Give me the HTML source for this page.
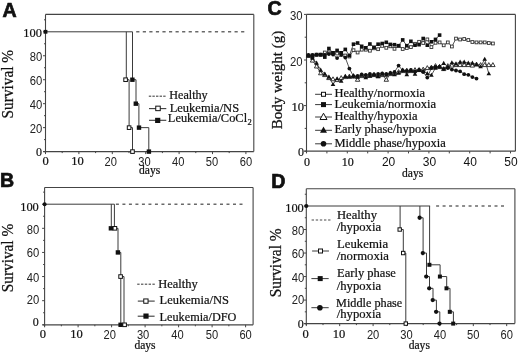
<!DOCTYPE html>
<html><head><meta charset="utf-8"><style>
html,body{margin:0;padding:0;background:#fff;width:520px;height:355px;overflow:hidden;}
svg{display:block;will-change:transform;}
</style></head><body>
<svg width="520" height="355" viewBox="0 0 520 355">
<rect width="520" height="355" fill="#fff"/>
<text x="2.40" y="16.60" font-family='"Liberation Sans", sans-serif' font-size="19.6" font-weight="bold" text-anchor="start" fill="#111" stroke="#111" stroke-width="0.7">A</text>
<text x="0.00" y="187.20" font-family='"Liberation Sans", sans-serif' font-size="19.6" font-weight="bold" text-anchor="start" fill="#111" stroke="#111" stroke-width="0.7">B</text>
<text x="267.60" y="15.00" font-family='"Liberation Sans", sans-serif' font-size="19.6" font-weight="bold" text-anchor="start" fill="#111" stroke="#111" stroke-width="0.7">C</text>
<text x="271.30" y="188.30" font-family='"Liberation Sans", sans-serif' font-size="19.6" font-weight="bold" text-anchor="start" fill="#111" stroke="#111" stroke-width="0.7">D</text>
<line x1="45.50" y1="14.40" x2="253.80" y2="14.40" stroke="#444" stroke-width="1.1" />
<line x1="253.80" y1="14.40" x2="253.80" y2="151.60" stroke="#444" stroke-width="1.1" />
<line x1="45.50" y1="14.40" x2="45.50" y2="153.10" stroke="#444" stroke-width="1.1" />
<line x1="43.50" y1="151.60" x2="253.80" y2="151.60" stroke="#444" stroke-width="1.25" />
<line x1="43.00" y1="151.60" x2="45.50" y2="151.60" stroke="#444" stroke-width="1" />
<line x1="44.00" y1="139.62" x2="45.50" y2="139.62" stroke="#444" stroke-width="1" />
<line x1="43.00" y1="127.64" x2="45.50" y2="127.64" stroke="#444" stroke-width="1" />
<line x1="44.00" y1="115.66" x2="45.50" y2="115.66" stroke="#444" stroke-width="1" />
<line x1="43.00" y1="103.68" x2="45.50" y2="103.68" stroke="#444" stroke-width="1" />
<line x1="44.00" y1="91.70" x2="45.50" y2="91.70" stroke="#444" stroke-width="1" />
<line x1="43.00" y1="79.72" x2="45.50" y2="79.72" stroke="#444" stroke-width="1" />
<line x1="44.00" y1="67.74" x2="45.50" y2="67.74" stroke="#444" stroke-width="1" />
<line x1="43.00" y1="55.76" x2="45.50" y2="55.76" stroke="#444" stroke-width="1" />
<line x1="44.00" y1="43.78" x2="45.50" y2="43.78" stroke="#444" stroke-width="1" />
<line x1="43.00" y1="31.80" x2="45.50" y2="31.80" stroke="#444" stroke-width="1" />
<line x1="44.00" y1="19.82" x2="45.50" y2="19.82" stroke="#444" stroke-width="1" />
<text x="41.90" y="36.69" font-family='"Liberation Serif", serif' font-size="13" font-weight="normal" text-anchor="end" fill="#111" textLength="18.6" lengthAdjust="spacingAndGlyphs"  stroke="#111" stroke-width="0.22">100</text>
<text x="42.30" y="60.66" font-family='"Liberation Sans", sans-serif' font-size="12.3" font-weight="normal" text-anchor="end" fill="#222" textLength="12.5" lengthAdjust="spacingAndGlyphs" >80</text>
<text x="42.30" y="84.62" font-family='"Liberation Sans", sans-serif' font-size="12.3" font-weight="normal" text-anchor="end" fill="#222" textLength="12.5" lengthAdjust="spacingAndGlyphs" >60</text>
<text x="42.30" y="108.58" font-family='"Liberation Sans", sans-serif' font-size="12.3" font-weight="normal" text-anchor="end" fill="#222" textLength="12.5" lengthAdjust="spacingAndGlyphs" >40</text>
<text x="42.30" y="132.54" font-family='"Liberation Sans", sans-serif' font-size="12.3" font-weight="normal" text-anchor="end" fill="#222" textLength="12.5" lengthAdjust="spacingAndGlyphs" >20</text>
<text x="41.90" y="155.59" font-family='"Liberation Serif", serif' font-size="13" font-weight="normal" text-anchor="end" fill="#111" textLength="6.0" lengthAdjust="spacingAndGlyphs"  stroke="#111" stroke-width="0.22">0</text>
<line x1="45.50" y1="151.60" x2="45.50" y2="154.10" stroke="#444" stroke-width="1" />
<line x1="62.20" y1="151.60" x2="62.20" y2="153.10" stroke="#444" stroke-width="1" />
<line x1="78.90" y1="151.60" x2="78.90" y2="154.10" stroke="#444" stroke-width="1" />
<line x1="95.60" y1="151.60" x2="95.60" y2="153.10" stroke="#444" stroke-width="1" />
<line x1="112.30" y1="151.60" x2="112.30" y2="154.10" stroke="#444" stroke-width="1" />
<line x1="129.00" y1="151.60" x2="129.00" y2="153.10" stroke="#444" stroke-width="1" />
<line x1="145.70" y1="151.60" x2="145.70" y2="154.10" stroke="#444" stroke-width="1" />
<line x1="162.40" y1="151.60" x2="162.40" y2="153.10" stroke="#444" stroke-width="1" />
<line x1="179.10" y1="151.60" x2="179.10" y2="154.10" stroke="#444" stroke-width="1" />
<line x1="195.80" y1="151.60" x2="195.80" y2="153.10" stroke="#444" stroke-width="1" />
<line x1="212.50" y1="151.60" x2="212.50" y2="154.10" stroke="#444" stroke-width="1" />
<line x1="229.20" y1="151.60" x2="229.20" y2="153.10" stroke="#444" stroke-width="1" />
<line x1="245.90" y1="151.60" x2="245.90" y2="154.10" stroke="#444" stroke-width="1" />
<text x="45.70" y="165.00" font-family='"Liberation Serif", serif' font-size="12.5" font-weight="normal" text-anchor="middle" fill="#111"  stroke="#111" stroke-width="0.22">0</text>
<text x="77.50" y="165.00" font-family='"Liberation Serif", serif' font-size="12.5" font-weight="normal" text-anchor="middle" fill="#111"  stroke="#111" stroke-width="0.22">10</text>
<text x="110.80" y="165.80" font-family='"Liberation Sans", sans-serif' font-size="12" font-weight="normal" text-anchor="middle" fill="#222" textLength="12.4" lengthAdjust="spacingAndGlyphs" >20</text>
<text x="144.50" y="165.80" font-family='"Liberation Sans", sans-serif' font-size="12" font-weight="normal" text-anchor="middle" fill="#222" textLength="12.4" lengthAdjust="spacingAndGlyphs" >30</text>
<text x="178.30" y="165.80" font-family='"Liberation Sans", sans-serif' font-size="12" font-weight="normal" text-anchor="middle" fill="#222" textLength="12.4" lengthAdjust="spacingAndGlyphs" >40</text>
<text x="212.00" y="165.80" font-family='"Liberation Sans", sans-serif' font-size="12" font-weight="normal" text-anchor="middle" fill="#222" textLength="12.4" lengthAdjust="spacingAndGlyphs" >50</text>
<text x="246.00" y="165.80" font-family='"Liberation Sans", sans-serif' font-size="12" font-weight="normal" text-anchor="middle" fill="#222" textLength="12.4" lengthAdjust="spacingAndGlyphs" >60</text>
<text x="149.70" y="174.40" font-family='"Liberation Serif", serif' font-size="11.5" font-weight="normal" text-anchor="middle" fill="#111" textLength="21.2" lengthAdjust="spacingAndGlyphs"  stroke="#111" stroke-width="0.22">days</text>
<text transform="translate(13.20,118.40) rotate(-90)" font-family='"Liberation Serif", serif' font-size="15.8" font-weight="normal" fill="#111" stroke="#111" stroke-width="0.25" textLength="68.5" lengthAdjust="spacingAndGlyphs">Survival %</text>
<line x1="136.20" y1="31.80" x2="139.40" y2="31.80" stroke="#444" stroke-width="1.2" />
<line x1="142.76" y1="31.80" x2="145.96" y2="31.80" stroke="#444" stroke-width="1.2" />
<line x1="149.31" y1="31.80" x2="152.51" y2="31.80" stroke="#444" stroke-width="1.2" />
<line x1="155.87" y1="31.80" x2="159.07" y2="31.80" stroke="#444" stroke-width="1.2" />
<line x1="162.42" y1="31.80" x2="165.62" y2="31.80" stroke="#444" stroke-width="1.2" />
<line x1="168.98" y1="31.80" x2="172.18" y2="31.80" stroke="#444" stroke-width="1.2" />
<line x1="175.54" y1="31.80" x2="178.74" y2="31.80" stroke="#444" stroke-width="1.2" />
<line x1="182.09" y1="31.80" x2="185.29" y2="31.80" stroke="#444" stroke-width="1.2" />
<line x1="188.65" y1="31.80" x2="191.85" y2="31.80" stroke="#444" stroke-width="1.2" />
<line x1="195.20" y1="31.80" x2="198.40" y2="31.80" stroke="#444" stroke-width="1.2" />
<line x1="201.76" y1="31.80" x2="204.96" y2="31.80" stroke="#444" stroke-width="1.2" />
<line x1="208.32" y1="31.80" x2="211.52" y2="31.80" stroke="#444" stroke-width="1.2" />
<line x1="214.87" y1="31.80" x2="218.07" y2="31.80" stroke="#444" stroke-width="1.2" />
<line x1="221.43" y1="31.80" x2="224.63" y2="31.80" stroke="#444" stroke-width="1.2" />
<line x1="227.98" y1="31.80" x2="231.18" y2="31.80" stroke="#444" stroke-width="1.2" />
<line x1="234.54" y1="31.80" x2="237.74" y2="31.80" stroke="#444" stroke-width="1.2" />
<line x1="241.10" y1="31.80" x2="244.30" y2="31.80" stroke="#444" stroke-width="1.2" />
<polyline points="45.50,31.80 132.50,31.80" fill="none" stroke="#3a3a3a" stroke-width="1" />
<polyline points="126.30,31.80 126.30,79.72 129.10,79.72 129.10,127.64 132.50,127.64 132.50,151.60" fill="none" stroke="#3a3a3a" stroke-width="1" />
<polyline points="132.50,31.80 132.50,79.72 136.00,79.72 136.00,103.68 138.90,103.68 138.90,127.64 148.80,127.64 148.80,151.60" fill="none" stroke="#3a3a3a" stroke-width="1" />
<rect x="43.60" y="29.90" width="3.8" height="3.8" fill="#111"/>
<rect x="123.80" y="77.92" width="3.5999999999999996" height="3.5999999999999996" fill="#fff" stroke="#111" stroke-width="1"/>
<rect x="127.30" y="125.84" width="3.5999999999999996" height="3.5999999999999996" fill="#fff" stroke="#111" stroke-width="1"/>
<rect x="130.70" y="149.80" width="3.5999999999999996" height="3.5999999999999996" fill="#fff" stroke="#111" stroke-width="1"/>
<rect x="130.20" y="77.52" width="4.4" height="4.4" fill="#111"/>
<rect x="133.60" y="101.48" width="4.4" height="4.4" fill="#111"/>
<rect x="136.80" y="125.44" width="4.4" height="4.4" fill="#111"/>
<rect x="146.70" y="149.40" width="4.4" height="4.4" fill="#111"/>
<line x1="148.80" y1="96.20" x2="151.20" y2="96.20" stroke="#444" stroke-width="1.1" />
<line x1="152.40" y1="96.20" x2="154.80" y2="96.20" stroke="#444" stroke-width="1.1" />
<line x1="156.00" y1="96.20" x2="158.40" y2="96.20" stroke="#444" stroke-width="1.1" />
<line x1="159.60" y1="96.20" x2="162.00" y2="96.20" stroke="#444" stroke-width="1.1" />
<line x1="163.20" y1="96.20" x2="165.60" y2="96.20" stroke="#444" stroke-width="1.1" />
<text x="169.30" y="98.70" font-family='"Liberation Serif", serif' font-size="12.6" font-weight="normal" text-anchor="start" fill="#111" textLength="38.4" lengthAdjust="spacingAndGlyphs"  stroke="#111" stroke-width="0.22">Healthy</text>
<line x1="149.00" y1="108.60" x2="166.30" y2="108.60" stroke="#3a3a3a" stroke-width="1.1" />
<rect x="155.75" y="106.15" width="4.5" height="4.5" fill="#fff" stroke="#111" stroke-width="1"/>
<text x="169.70" y="111.60" font-family='"Liberation Serif", serif' font-size="12.6" font-weight="normal" text-anchor="start" fill="#111" textLength="69.4" lengthAdjust="spacingAndGlyphs"  stroke="#111" stroke-width="0.22">Leukemia/NS</text>
<line x1="149.00" y1="120.30" x2="166.30" y2="120.30" stroke="#3a3a3a" stroke-width="1.1" />
<rect x="155.10" y="117.80" width="5.2" height="5.2" fill="#111"/>
<text x="167.80" y="122.30" font-family='"Liberation Serif", serif' font-size="12.6" font-weight="normal" text-anchor="start" fill="#111" textLength="79.3" lengthAdjust="spacingAndGlyphs"  stroke="#111" stroke-width="0.22">Leukemia/CoCl</text>
<text x="247.60" y="124.90" font-family='"Liberation Serif", serif' font-size="8.5" font-weight="normal" text-anchor="start" fill="#111"  stroke="#111" stroke-width="0.22">2</text>
<line x1="44.60" y1="187.50" x2="253.10" y2="187.50" stroke="#444" stroke-width="1.1" />
<line x1="253.10" y1="187.50" x2="253.10" y2="324.80" stroke="#444" stroke-width="1.1" />
<line x1="44.60" y1="187.50" x2="44.60" y2="326.30" stroke="#444" stroke-width="1.1" />
<line x1="42.60" y1="324.80" x2="253.10" y2="324.80" stroke="#444" stroke-width="1.25" />
<line x1="42.10" y1="324.80" x2="44.60" y2="324.80" stroke="#444" stroke-width="1" />
<line x1="43.10" y1="312.74" x2="44.60" y2="312.74" stroke="#444" stroke-width="1" />
<line x1="42.10" y1="300.68" x2="44.60" y2="300.68" stroke="#444" stroke-width="1" />
<line x1="43.10" y1="288.62" x2="44.60" y2="288.62" stroke="#444" stroke-width="1" />
<line x1="42.10" y1="276.56" x2="44.60" y2="276.56" stroke="#444" stroke-width="1" />
<line x1="43.10" y1="264.50" x2="44.60" y2="264.50" stroke="#444" stroke-width="1" />
<line x1="42.10" y1="252.44" x2="44.60" y2="252.44" stroke="#444" stroke-width="1" />
<line x1="43.10" y1="240.38" x2="44.60" y2="240.38" stroke="#444" stroke-width="1" />
<line x1="42.10" y1="228.32" x2="44.60" y2="228.32" stroke="#444" stroke-width="1" />
<line x1="43.10" y1="216.26" x2="44.60" y2="216.26" stroke="#444" stroke-width="1" />
<line x1="42.10" y1="204.20" x2="44.60" y2="204.20" stroke="#444" stroke-width="1" />
<line x1="43.10" y1="192.14" x2="44.60" y2="192.14" stroke="#444" stroke-width="1" />
<text x="38.80" y="211.29" font-family='"Liberation Serif", serif' font-size="13" font-weight="normal" text-anchor="end" fill="#111" textLength="18.6" lengthAdjust="spacingAndGlyphs"  stroke="#111" stroke-width="0.22">100</text>
<text x="39.20" y="234.22" font-family='"Liberation Sans", sans-serif' font-size="12.3" font-weight="normal" text-anchor="end" fill="#222" textLength="12.5" lengthAdjust="spacingAndGlyphs" >80</text>
<text x="39.20" y="257.44" font-family='"Liberation Sans", sans-serif' font-size="12.3" font-weight="normal" text-anchor="end" fill="#222" textLength="12.5" lengthAdjust="spacingAndGlyphs" >60</text>
<text x="39.20" y="281.56" font-family='"Liberation Sans", sans-serif' font-size="12.3" font-weight="normal" text-anchor="end" fill="#222" textLength="12.5" lengthAdjust="spacingAndGlyphs" >40</text>
<text x="39.20" y="303.78" font-family='"Liberation Sans", sans-serif' font-size="12.3" font-weight="normal" text-anchor="end" fill="#222" textLength="12.5" lengthAdjust="spacingAndGlyphs" >20</text>
<text x="38.80" y="326.19" font-family='"Liberation Serif", serif' font-size="13" font-weight="normal" text-anchor="end" fill="#111" textLength="6.0" lengthAdjust="spacingAndGlyphs"  stroke="#111" stroke-width="0.22">0</text>
<line x1="44.60" y1="324.80" x2="44.60" y2="327.30" stroke="#444" stroke-width="1" />
<line x1="61.35" y1="324.80" x2="61.35" y2="326.30" stroke="#444" stroke-width="1" />
<line x1="78.10" y1="324.80" x2="78.10" y2="327.30" stroke="#444" stroke-width="1" />
<line x1="94.85" y1="324.80" x2="94.85" y2="326.30" stroke="#444" stroke-width="1" />
<line x1="111.60" y1="324.80" x2="111.60" y2="327.30" stroke="#444" stroke-width="1" />
<line x1="128.35" y1="324.80" x2="128.35" y2="326.30" stroke="#444" stroke-width="1" />
<line x1="145.10" y1="324.80" x2="145.10" y2="327.30" stroke="#444" stroke-width="1" />
<line x1="161.85" y1="324.80" x2="161.85" y2="326.30" stroke="#444" stroke-width="1" />
<line x1="178.60" y1="324.80" x2="178.60" y2="327.30" stroke="#444" stroke-width="1" />
<line x1="195.35" y1="324.80" x2="195.35" y2="326.30" stroke="#444" stroke-width="1" />
<line x1="212.10" y1="324.80" x2="212.10" y2="327.30" stroke="#444" stroke-width="1" />
<line x1="228.85" y1="324.80" x2="228.85" y2="326.30" stroke="#444" stroke-width="1" />
<line x1="245.60" y1="324.80" x2="245.60" y2="327.30" stroke="#444" stroke-width="1" />
<text x="42.80" y="338.40" font-family='"Liberation Serif", serif' font-size="12.5" font-weight="normal" text-anchor="middle" fill="#111"  stroke="#111" stroke-width="0.22">0</text>
<text x="76.50" y="338.40" font-family='"Liberation Serif", serif' font-size="12.5" font-weight="normal" text-anchor="middle" fill="#111"  stroke="#111" stroke-width="0.22">10</text>
<text x="109.80" y="339.20" font-family='"Liberation Sans", sans-serif' font-size="12" font-weight="normal" text-anchor="middle" fill="#222" textLength="12.4" lengthAdjust="spacingAndGlyphs" >20</text>
<text x="143.10" y="339.20" font-family='"Liberation Sans", sans-serif' font-size="12" font-weight="normal" text-anchor="middle" fill="#222" textLength="12.4" lengthAdjust="spacingAndGlyphs" >30</text>
<text x="177.50" y="339.20" font-family='"Liberation Sans", sans-serif' font-size="12" font-weight="normal" text-anchor="middle" fill="#222" textLength="12.4" lengthAdjust="spacingAndGlyphs" >40</text>
<text x="211.90" y="339.20" font-family='"Liberation Sans", sans-serif' font-size="12" font-weight="normal" text-anchor="middle" fill="#222" textLength="12.4" lengthAdjust="spacingAndGlyphs" >50</text>
<text x="245.60" y="339.20" font-family='"Liberation Sans", sans-serif' font-size="12" font-weight="normal" text-anchor="middle" fill="#222" textLength="12.4" lengthAdjust="spacingAndGlyphs" >60</text>
<text x="145.00" y="349.20" font-family='"Liberation Serif", serif' font-size="11.5" font-weight="normal" text-anchor="middle" fill="#111" textLength="21.2" lengthAdjust="spacingAndGlyphs"  stroke="#111" stroke-width="0.22">days</text>
<text transform="translate(13.20,292.30) rotate(-90)" font-family='"Liberation Serif", serif' font-size="15.8" font-weight="normal" fill="#111" stroke="#111" stroke-width="0.25" textLength="68.5" lengthAdjust="spacingAndGlyphs">Survival %</text>
<line x1="115.90" y1="204.20" x2="118.90" y2="204.20" stroke="#444" stroke-width="1.2" />
<line x1="122.41" y1="204.20" x2="125.41" y2="204.20" stroke="#444" stroke-width="1.2" />
<line x1="128.91" y1="204.20" x2="131.91" y2="204.20" stroke="#444" stroke-width="1.2" />
<line x1="135.42" y1="204.20" x2="138.42" y2="204.20" stroke="#444" stroke-width="1.2" />
<line x1="141.92" y1="204.20" x2="144.92" y2="204.20" stroke="#444" stroke-width="1.2" />
<line x1="148.43" y1="204.20" x2="151.43" y2="204.20" stroke="#444" stroke-width="1.2" />
<line x1="154.93" y1="204.20" x2="157.93" y2="204.20" stroke="#444" stroke-width="1.2" />
<line x1="161.44" y1="204.20" x2="164.44" y2="204.20" stroke="#444" stroke-width="1.2" />
<line x1="167.94" y1="204.20" x2="170.94" y2="204.20" stroke="#444" stroke-width="1.2" />
<line x1="174.44" y1="204.20" x2="177.44" y2="204.20" stroke="#444" stroke-width="1.2" />
<line x1="180.95" y1="204.20" x2="183.95" y2="204.20" stroke="#444" stroke-width="1.2" />
<line x1="187.45" y1="204.20" x2="190.45" y2="204.20" stroke="#444" stroke-width="1.2" />
<line x1="193.96" y1="204.20" x2="196.96" y2="204.20" stroke="#444" stroke-width="1.2" />
<line x1="200.47" y1="204.20" x2="203.47" y2="204.20" stroke="#444" stroke-width="1.2" />
<line x1="206.97" y1="204.20" x2="209.97" y2="204.20" stroke="#444" stroke-width="1.2" />
<line x1="213.48" y1="204.20" x2="216.48" y2="204.20" stroke="#444" stroke-width="1.2" />
<line x1="219.98" y1="204.20" x2="222.98" y2="204.20" stroke="#444" stroke-width="1.2" />
<line x1="226.49" y1="204.20" x2="229.49" y2="204.20" stroke="#444" stroke-width="1.2" />
<line x1="232.99" y1="204.20" x2="235.99" y2="204.20" stroke="#444" stroke-width="1.2" />
<line x1="239.50" y1="204.20" x2="242.50" y2="204.20" stroke="#444" stroke-width="1.2" />
<polyline points="44.60,204.20 114.40,204.20" fill="none" stroke="#3a3a3a" stroke-width="1" />
<polyline points="111.30,204.20 111.30,228.32 118.00,228.32 118.00,252.44 120.80,252.44 120.80,324.80" fill="none" stroke="#3a3a3a" stroke-width="1" />
<polyline points="114.40,204.20 114.40,228.32" fill="none" stroke="#3a3a3a" stroke-width="1" />
<polyline points="120.80,276.56 124.00,276.56 124.00,324.80" fill="none" stroke="#3a3a3a" stroke-width="1" />
<circle cx="44.60" cy="204.20" r="2.0" fill="#111"/>
<rect x="108.70" y="226.12" width="4.4" height="4.4" fill="#111"/>
<rect x="113.10" y="226.52" width="3.5999999999999996" height="3.5999999999999996" fill="#fff" stroke="#111" stroke-width="1"/>
<rect x="115.70" y="250.24" width="4.4" height="4.4" fill="#111"/>
<rect x="118.80" y="274.76" width="3.5999999999999996" height="3.5999999999999996" fill="#fff" stroke="#111" stroke-width="1"/>
<rect x="122.80" y="323.00" width="3.5999999999999996" height="3.5999999999999996" fill="#fff" stroke="#111" stroke-width="1"/>
<rect x="118.40" y="322.60" width="4.4" height="4.4" fill="#111"/>
<line x1="137.20" y1="284.20" x2="139.60" y2="284.20" stroke="#444" stroke-width="1.1" />
<line x1="141.00" y1="284.20" x2="143.40" y2="284.20" stroke="#444" stroke-width="1.1" />
<line x1="144.80" y1="284.20" x2="147.20" y2="284.20" stroke="#444" stroke-width="1.1" />
<line x1="148.60" y1="284.20" x2="151.00" y2="284.20" stroke="#444" stroke-width="1.1" />
<line x1="152.40" y1="284.20" x2="154.80" y2="284.20" stroke="#444" stroke-width="1.1" />
<text x="158.30" y="287.60" font-family='"Liberation Serif", serif' font-size="12.6" font-weight="normal" text-anchor="start" fill="#111" textLength="39.4" lengthAdjust="spacingAndGlyphs"  stroke="#111" stroke-width="0.22">Healthy</text>
<line x1="137.80" y1="301.10" x2="154.70" y2="301.10" stroke="#3a3a3a" stroke-width="1.1" />
<rect x="143.75" y="298.95" width="4.3" height="4.3" fill="#fff" stroke="#111" stroke-width="1"/>
<text x="159.60" y="303.80" font-family='"Liberation Serif", serif' font-size="12.6" font-weight="normal" text-anchor="start" fill="#111" textLength="69.3" lengthAdjust="spacingAndGlyphs"  stroke="#111" stroke-width="0.22">Leukemia/NS</text>
<line x1="137.70" y1="316.20" x2="154.60" y2="316.20" stroke="#3a3a3a" stroke-width="1.1" />
<rect x="143.40" y="313.50" width="5.2" height="5.2" fill="#111"/>
<text x="159.60" y="320.50" font-family='"Liberation Serif", serif' font-size="12.6" font-weight="normal" text-anchor="start" fill="#111" textLength="76.8" lengthAdjust="spacingAndGlyphs"  stroke="#111" stroke-width="0.22">Leukemia/DFO</text>
<line x1="306.30" y1="188.70" x2="514.90" y2="188.70" stroke="#444" stroke-width="1.1" />
<line x1="514.90" y1="188.70" x2="514.90" y2="323.60" stroke="#444" stroke-width="1.1" />
<line x1="306.30" y1="188.70" x2="306.30" y2="325.10" stroke="#444" stroke-width="1.1" />
<line x1="304.30" y1="323.60" x2="514.90" y2="323.60" stroke="#444" stroke-width="1.25" />
<line x1="303.80" y1="323.60" x2="306.30" y2="323.60" stroke="#444" stroke-width="1" />
<line x1="304.80" y1="311.84" x2="306.30" y2="311.84" stroke="#444" stroke-width="1" />
<line x1="303.80" y1="300.08" x2="306.30" y2="300.08" stroke="#444" stroke-width="1" />
<line x1="304.80" y1="288.32" x2="306.30" y2="288.32" stroke="#444" stroke-width="1" />
<line x1="303.80" y1="276.56" x2="306.30" y2="276.56" stroke="#444" stroke-width="1" />
<line x1="304.80" y1="264.80" x2="306.30" y2="264.80" stroke="#444" stroke-width="1" />
<line x1="303.80" y1="253.04" x2="306.30" y2="253.04" stroke="#444" stroke-width="1" />
<line x1="304.80" y1="241.28" x2="306.30" y2="241.28" stroke="#444" stroke-width="1" />
<line x1="303.80" y1="229.52" x2="306.30" y2="229.52" stroke="#444" stroke-width="1" />
<line x1="304.80" y1="217.76" x2="306.30" y2="217.76" stroke="#444" stroke-width="1" />
<line x1="303.80" y1="206.00" x2="306.30" y2="206.00" stroke="#444" stroke-width="1" />
<line x1="304.80" y1="194.24" x2="306.30" y2="194.24" stroke="#444" stroke-width="1" />
<text x="303.80" y="212.39" font-family='"Liberation Serif", serif' font-size="13" font-weight="normal" text-anchor="end" fill="#111" textLength="18.6" lengthAdjust="spacingAndGlyphs"  stroke="#111" stroke-width="0.22">100</text>
<text x="304.20" y="235.42" font-family='"Liberation Sans", sans-serif' font-size="12.3" font-weight="normal" text-anchor="end" fill="#222" textLength="12.5" lengthAdjust="spacingAndGlyphs" >80</text>
<text x="304.20" y="257.84" font-family='"Liberation Sans", sans-serif' font-size="12.3" font-weight="normal" text-anchor="end" fill="#222" textLength="12.5" lengthAdjust="spacingAndGlyphs" >60</text>
<text x="304.20" y="282.26" font-family='"Liberation Sans", sans-serif' font-size="12.3" font-weight="normal" text-anchor="end" fill="#222" textLength="12.5" lengthAdjust="spacingAndGlyphs" >40</text>
<text x="304.20" y="304.18" font-family='"Liberation Sans", sans-serif' font-size="12.3" font-weight="normal" text-anchor="end" fill="#222" textLength="12.5" lengthAdjust="spacingAndGlyphs" >20</text>
<text x="303.80" y="327.99" font-family='"Liberation Serif", serif' font-size="13" font-weight="normal" text-anchor="end" fill="#111" textLength="6.0" lengthAdjust="spacingAndGlyphs"  stroke="#111" stroke-width="0.22">0</text>
<line x1="306.30" y1="323.60" x2="306.30" y2="326.10" stroke="#444" stroke-width="1" />
<line x1="323.00" y1="323.60" x2="323.00" y2="325.10" stroke="#444" stroke-width="1" />
<line x1="339.70" y1="323.60" x2="339.70" y2="326.10" stroke="#444" stroke-width="1" />
<line x1="356.40" y1="323.60" x2="356.40" y2="325.10" stroke="#444" stroke-width="1" />
<line x1="373.10" y1="323.60" x2="373.10" y2="326.10" stroke="#444" stroke-width="1" />
<line x1="389.80" y1="323.60" x2="389.80" y2="325.10" stroke="#444" stroke-width="1" />
<line x1="406.50" y1="323.60" x2="406.50" y2="326.10" stroke="#444" stroke-width="1" />
<line x1="423.20" y1="323.60" x2="423.20" y2="325.10" stroke="#444" stroke-width="1" />
<line x1="439.90" y1="323.60" x2="439.90" y2="326.10" stroke="#444" stroke-width="1" />
<line x1="456.60" y1="323.60" x2="456.60" y2="325.10" stroke="#444" stroke-width="1" />
<line x1="473.30" y1="323.60" x2="473.30" y2="326.10" stroke="#444" stroke-width="1" />
<line x1="490.00" y1="323.60" x2="490.00" y2="325.10" stroke="#444" stroke-width="1" />
<line x1="506.70" y1="323.60" x2="506.70" y2="326.10" stroke="#444" stroke-width="1" />
<text x="305.60" y="338.20" font-family='"Liberation Serif", serif' font-size="12.5" font-weight="normal" text-anchor="middle" fill="#111"  stroke="#111" stroke-width="0.22">0</text>
<text x="338.90" y="338.20" font-family='"Liberation Serif", serif' font-size="12.5" font-weight="normal" text-anchor="middle" fill="#111"  stroke="#111" stroke-width="0.22">10</text>
<text x="373.10" y="339.00" font-family='"Liberation Sans", sans-serif' font-size="12" font-weight="normal" text-anchor="middle" fill="#222" textLength="12.4" lengthAdjust="spacingAndGlyphs" >20</text>
<text x="406.50" y="339.00" font-family='"Liberation Sans", sans-serif' font-size="12" font-weight="normal" text-anchor="middle" fill="#222" textLength="12.4" lengthAdjust="spacingAndGlyphs" >30</text>
<text x="439.90" y="339.00" font-family='"Liberation Sans", sans-serif' font-size="12" font-weight="normal" text-anchor="middle" fill="#222" textLength="12.4" lengthAdjust="spacingAndGlyphs" >40</text>
<text x="473.30" y="339.00" font-family='"Liberation Sans", sans-serif' font-size="12" font-weight="normal" text-anchor="middle" fill="#222" textLength="12.4" lengthAdjust="spacingAndGlyphs" >50</text>
<text x="506.70" y="339.00" font-family='"Liberation Sans", sans-serif' font-size="12" font-weight="normal" text-anchor="middle" fill="#222" textLength="12.4" lengthAdjust="spacingAndGlyphs" >60</text>
<text x="419.30" y="349.30" font-family='"Liberation Serif", serif' font-size="11.5" font-weight="normal" text-anchor="middle" fill="#111" textLength="21.2" lengthAdjust="spacingAndGlyphs"  stroke="#111" stroke-width="0.22">days</text>
<text transform="translate(281.40,297.30) rotate(-90)" font-family='"Liberation Serif", serif' font-size="15.8" font-weight="normal" fill="#111" stroke="#111" stroke-width="0.25" textLength="69" lengthAdjust="spacingAndGlyphs">Survival %</text>
<line x1="436.10" y1="206.00" x2="439.10" y2="206.00" stroke="#444" stroke-width="1.2" />
<line x1="442.59" y1="206.00" x2="445.59" y2="206.00" stroke="#444" stroke-width="1.2" />
<line x1="449.08" y1="206.00" x2="452.08" y2="206.00" stroke="#444" stroke-width="1.2" />
<line x1="455.57" y1="206.00" x2="458.57" y2="206.00" stroke="#444" stroke-width="1.2" />
<line x1="462.06" y1="206.00" x2="465.06" y2="206.00" stroke="#444" stroke-width="1.2" />
<line x1="468.55" y1="206.00" x2="471.55" y2="206.00" stroke="#444" stroke-width="1.2" />
<line x1="475.04" y1="206.00" x2="478.04" y2="206.00" stroke="#444" stroke-width="1.2" />
<line x1="481.53" y1="206.00" x2="484.53" y2="206.00" stroke="#444" stroke-width="1.2" />
<line x1="488.02" y1="206.00" x2="491.02" y2="206.00" stroke="#444" stroke-width="1.2" />
<line x1="494.51" y1="206.00" x2="497.51" y2="206.00" stroke="#444" stroke-width="1.2" />
<line x1="501.00" y1="206.00" x2="504.00" y2="206.00" stroke="#444" stroke-width="1.2" />
<polyline points="306.30,206.00 430.10,206.00" fill="none" stroke="#3a3a3a" stroke-width="1" />
<polyline points="400.10,206.00 400.10,229.52 403.30,229.52 403.30,253.04 405.80,253.04 405.80,323.60" fill="none" stroke="#3a3a3a" stroke-width="1" />
<rect x="398.00" y="227.82" width="3.4000000000000004" height="3.4000000000000004" fill="#fff" stroke="#111" stroke-width="1"/>
<rect x="401.50" y="251.34" width="3.4000000000000004" height="3.4000000000000004" fill="#fff" stroke="#111" stroke-width="1"/>
<rect x="404.10" y="321.90" width="3.4000000000000004" height="3.4000000000000004" fill="#fff" stroke="#111" stroke-width="1"/>
<polyline points="419.90,206.00 419.90,217.76 423.10,217.76 423.10,253.04 426.50,253.04 426.50,276.56 429.50,276.56 429.50,288.32 433.00,288.32 433.00,300.08 436.40,300.08 436.40,311.84 439.80,311.84 439.80,323.60" fill="none" stroke="#3a3a3a" stroke-width="1" />
<circle cx="419.60" cy="217.76" r="2.15" fill="#111"/>
<circle cx="422.80" cy="253.04" r="2.15" fill="#111"/>
<circle cx="426.20" cy="276.56" r="2.15" fill="#111"/>
<circle cx="429.20" cy="288.32" r="2.15" fill="#111"/>
<circle cx="432.70" cy="300.08" r="2.15" fill="#111"/>
<circle cx="436.10" cy="311.84" r="2.15" fill="#111"/>
<circle cx="439.50" cy="323.60" r="2.15" fill="#111"/>
<polyline points="429.60,206.00 429.60,264.80 440.10,264.80 440.10,276.56 446.70,276.56 446.70,288.32 450.00,288.32 450.00,311.84 453.40,311.84 453.40,323.60" fill="none" stroke="#3a3a3a" stroke-width="1" />
<rect x="427.40" y="262.80" width="4.0" height="4.0" fill="#111"/>
<rect x="437.90" y="274.56" width="4.0" height="4.0" fill="#111"/>
<rect x="444.50" y="286.32" width="4.0" height="4.0" fill="#111"/>
<rect x="447.80" y="309.84" width="4.0" height="4.0" fill="#111"/>
<rect x="451.20" y="321.60" width="4.0" height="4.0" fill="#111"/>
<circle cx="306.30" cy="206.00" r="2.1" fill="#111"/>
<line x1="311.60" y1="220.00" x2="314.00" y2="220.00" stroke="#666" stroke-width="1.2" />
<line x1="315.72" y1="220.00" x2="318.12" y2="220.00" stroke="#666" stroke-width="1.2" />
<line x1="319.84" y1="220.00" x2="322.24" y2="220.00" stroke="#666" stroke-width="1.2" />
<line x1="323.96" y1="220.00" x2="326.36" y2="220.00" stroke="#666" stroke-width="1.2" />
<line x1="328.08" y1="220.00" x2="330.48" y2="220.00" stroke="#666" stroke-width="1.2" />
<text x="337.00" y="219.40" font-family='"Liberation Serif", serif' font-size="12.6" font-weight="normal" text-anchor="start" fill="#111" textLength="40.0" lengthAdjust="spacingAndGlyphs"  stroke="#111" stroke-width="0.22">Healthy</text>
<text x="336.70" y="230.70" font-family='"Liberation Serif", serif' font-size="12.6" font-weight="normal" text-anchor="start" fill="#111" textLength="44.4" lengthAdjust="spacingAndGlyphs"  stroke="#111" stroke-width="0.22">/hypoxia</text>
<line x1="312.10" y1="251.00" x2="329.00" y2="251.00" stroke="#3a3a3a" stroke-width="1" />
<rect x="318.50" y="249.00" width="4" height="4" fill="#fff" stroke="#111" stroke-width="1"/>
<text x="337.00" y="248.10" font-family='"Liberation Serif", serif' font-size="12.6" font-weight="normal" text-anchor="start" fill="#111" textLength="51.1" lengthAdjust="spacingAndGlyphs"  stroke="#111" stroke-width="0.22">Leukemia</text>
<text x="336.70" y="259.90" font-family='"Liberation Serif", serif' font-size="12.6" font-weight="normal" text-anchor="start" fill="#111" textLength="52.3" lengthAdjust="spacingAndGlyphs"  stroke="#111" stroke-width="0.22">/normoxia</text>
<line x1="311.40" y1="278.60" x2="328.70" y2="278.60" stroke="#3a3a3a" stroke-width="1" />
<rect x="317.70" y="276.10" width="5" height="5" fill="#111"/>
<text x="337.00" y="276.90" font-family='"Liberation Serif", serif' font-size="12.6" font-weight="normal" text-anchor="start" fill="#111" textLength="58.9" lengthAdjust="spacingAndGlyphs"  stroke="#111" stroke-width="0.22">Early phase</text>
<text x="336.70" y="289.90" font-family='"Liberation Serif", serif' font-size="12.6" font-weight="normal" text-anchor="start" fill="#111" textLength="44.4" lengthAdjust="spacingAndGlyphs"  stroke="#111" stroke-width="0.22">/hypoxia</text>
<line x1="311.40" y1="307.70" x2="328.70" y2="307.70" stroke="#3a3a3a" stroke-width="1" />
<circle cx="319.90" cy="307.70" r="2.8" fill="#111"/>
<text x="336.00" y="306.70" font-family='"Liberation Serif", serif' font-size="12.6" font-weight="normal" text-anchor="start" fill="#111" textLength="66.3" lengthAdjust="spacingAndGlyphs"  stroke="#111" stroke-width="0.22">Middle phase</text>
<text x="336.70" y="317.80" font-family='"Liberation Serif", serif' font-size="12.6" font-weight="normal" text-anchor="start" fill="#111" textLength="44.4" lengthAdjust="spacingAndGlyphs"  stroke="#111" stroke-width="0.22">/hypoxia</text>
<line x1="306.50" y1="14.40" x2="515.40" y2="14.40" stroke="#444" stroke-width="1.1" />
<line x1="515.40" y1="14.40" x2="515.40" y2="151.20" stroke="#444" stroke-width="1.1" />
<line x1="306.50" y1="14.40" x2="306.50" y2="152.70" stroke="#444" stroke-width="1.1" />
<line x1="304.50" y1="151.20" x2="515.40" y2="151.20" stroke="#444" stroke-width="1.25" />
<line x1="304.00" y1="151.20" x2="306.50" y2="151.20" stroke="#444" stroke-width="1" />
<line x1="304.70" y1="128.40" x2="306.50" y2="128.40" stroke="#444" stroke-width="1" />
<line x1="304.00" y1="105.60" x2="306.50" y2="105.60" stroke="#444" stroke-width="1" />
<line x1="304.70" y1="82.80" x2="306.50" y2="82.80" stroke="#444" stroke-width="1" />
<line x1="304.00" y1="60.00" x2="306.50" y2="60.00" stroke="#444" stroke-width="1" />
<line x1="304.70" y1="37.20" x2="306.50" y2="37.20" stroke="#444" stroke-width="1" />
<line x1="304.00" y1="14.40" x2="306.50" y2="14.40" stroke="#444" stroke-width="1" />
<text x="302.60" y="20.20" font-family='"Liberation Sans", sans-serif' font-size="12.3" font-weight="normal" text-anchor="end" fill="#222" textLength="12.6" lengthAdjust="spacingAndGlyphs" >30</text>
<text x="302.60" y="65.60" font-family='"Liberation Sans", sans-serif' font-size="12.3" font-weight="normal" text-anchor="end" fill="#222" textLength="12.6" lengthAdjust="spacingAndGlyphs" >20</text>
<text x="304.00" y="110.50" font-family='"Liberation Serif", serif' font-size="13" font-weight="normal" text-anchor="end" fill="#111" textLength="12.6" lengthAdjust="spacingAndGlyphs"  stroke="#111" stroke-width="0.22">10</text>
<text x="304.00" y="156.10" font-family='"Liberation Serif", serif' font-size="13" font-weight="normal" text-anchor="end" fill="#111" textLength="6.0" lengthAdjust="spacingAndGlyphs"  stroke="#111" stroke-width="0.22">0</text>
<line x1="306.50" y1="151.20" x2="306.50" y2="153.40" stroke="#444" stroke-width="1" />
<line x1="326.90" y1="151.20" x2="326.90" y2="153.40" stroke="#444" stroke-width="1" />
<line x1="347.30" y1="151.20" x2="347.30" y2="153.40" stroke="#444" stroke-width="1" />
<line x1="367.70" y1="151.20" x2="367.70" y2="153.40" stroke="#444" stroke-width="1" />
<line x1="388.10" y1="151.20" x2="388.10" y2="153.40" stroke="#444" stroke-width="1" />
<line x1="408.50" y1="151.20" x2="408.50" y2="153.40" stroke="#444" stroke-width="1" />
<line x1="428.90" y1="151.20" x2="428.90" y2="153.40" stroke="#444" stroke-width="1" />
<line x1="449.30" y1="151.20" x2="449.30" y2="153.40" stroke="#444" stroke-width="1" />
<line x1="469.70" y1="151.20" x2="469.70" y2="153.40" stroke="#444" stroke-width="1" />
<line x1="490.10" y1="151.20" x2="490.10" y2="153.40" stroke="#444" stroke-width="1" />
<line x1="510.50" y1="151.20" x2="510.50" y2="153.40" stroke="#444" stroke-width="1" />
<text x="307.00" y="165.90" font-family='"Liberation Serif", serif' font-size="12" font-weight="normal" text-anchor="middle" fill="#111"  stroke="#111" stroke-width="0.22">0</text>
<text x="347.80" y="165.90" font-family='"Liberation Serif", serif' font-size="12" font-weight="normal" text-anchor="middle" fill="#111"  stroke="#111" stroke-width="0.22">10</text>
<text x="388.60" y="165.90" font-family='"Liberation Sans", sans-serif' font-size="12" font-weight="normal" text-anchor="middle" fill="#111" >20</text>
<text x="429.40" y="165.90" font-family='"Liberation Sans", sans-serif' font-size="12" font-weight="normal" text-anchor="middle" fill="#111" >30</text>
<text x="470.20" y="165.90" font-family='"Liberation Sans", sans-serif' font-size="12" font-weight="normal" text-anchor="middle" fill="#111" >40</text>
<text x="511.00" y="165.90" font-family='"Liberation Sans", sans-serif' font-size="12" font-weight="normal" text-anchor="middle" fill="#111" >50</text>
<text x="412.70" y="176.60" font-family='"Liberation Serif", serif' font-size="11.5" font-weight="normal" text-anchor="middle" fill="#111" textLength="21.2" lengthAdjust="spacingAndGlyphs"  stroke="#111" stroke-width="0.22">days</text>
<text transform="translate(281.90,129.20) rotate(-90)" font-family='"Liberation Serif", serif' font-size="15.3" font-weight="normal" fill="#111" stroke="#111" stroke-width="0.25" textLength="98.5" lengthAdjust="spacingAndGlyphs">Body weight (g)</text>
<polyline points="308.40,55.50 312.50,60.50 316.60,66.40 320.70,73.20 324.80,75.00 328.90,78.00 333.00,79.20 337.10,80.00 341.20,78.00 345.30,77.00 349.40,76.50 353.50,76.50 357.60,79.70 361.70,76.00 365.80,76.00 369.90,75.50 374.00,75.00 378.10,76.00 382.20,75.00 386.30,79.70 390.40,74.00 394.50,73.50 398.60,72.00 402.70,71.00 406.80,70.50 410.90,71.00 415.00,70.00 419.10,70.00 423.20,69.50 427.30,68.00 431.40,67.50 435.50,66.00 439.60,67.00 443.70,69.00 447.80,66.00 451.90,65.50 456.00,65.00 460.10,65.00 464.20,65.00 468.30,65.00 472.40,65.50 476.50,64.50 480.60,65.00 484.70,65.00 488.80,65.00 492.90,65.00" fill="none" stroke="#444" stroke-width="0.9" />
<polyline points="308.40,55.50 312.50,58.00 316.60,63.00 320.70,70.00 324.80,74.00 328.90,77.00 333.00,84.40 337.10,78.70 341.20,81.00 345.30,76.30 349.40,76.90 353.50,75.50 357.60,77.00 361.70,75.00 365.80,77.50 369.90,76.00 374.00,74.50 378.10,76.50 382.20,74.00 386.30,75.00 390.40,73.00 394.50,74.70 398.60,73.00 402.70,70.00 406.80,74.50 410.90,70.50 415.00,74.00 419.10,70.00 423.20,71.00 427.30,73.50 431.40,75.20 435.50,68.00 439.60,66.50 443.70,63.30 447.80,66.70 451.90,62.70 456.00,63.80 460.10,62.10 464.20,62.10 468.30,63.00 472.40,63.00 476.50,64.40 480.60,66.70 484.70,59.20 488.80,73.70" fill="none" stroke="#444" stroke-width="0.9" />
<polyline points="308.40,55.50 312.50,55.00 316.60,54.70 320.70,54.70 324.80,55.00 328.90,54.00 333.00,54.50 337.10,58.10 341.20,55.00 345.30,57.60 349.40,68.60 353.50,76.30 357.60,76.00 361.70,74.50 365.80,75.00 369.90,74.00 374.00,74.50 378.10,74.00 382.20,73.50 386.30,74.00 390.40,73.00 394.50,72.00 398.60,65.60 402.70,70.50 406.80,71.00 410.90,70.00 415.00,71.50 419.10,70.00 423.20,72.00 427.30,77.60 431.40,68.00 435.50,67.00 439.60,66.70 443.70,69.00 447.80,68.00 451.90,69.60 456.00,70.50 460.10,71.30 464.20,74.20 468.30,74.80 472.40,77.10 476.50,78.60" fill="none" stroke="#444" stroke-width="0.9" />
<polyline points="308.40,55.50 312.50,55.50 316.60,54.70 320.70,54.70 324.80,52.50 328.90,52.50 333.00,53.00 337.10,53.50 341.20,53.00 345.30,55.50 349.40,56.50 353.50,50.20 357.60,52.50 361.70,49.70 365.80,49.70 369.90,50.70 374.00,48.30 378.10,49.20 382.20,45.90 386.30,47.80 390.40,46.30 394.50,48.80 398.60,45.90 402.70,49.00 406.80,48.00 410.90,47.10 415.00,43.80 419.10,41.80 423.20,43.00 427.30,39.40 431.40,47.10 435.50,42.80 439.60,42.40 443.70,45.30 447.80,42.40 451.90,46.50 456.00,38.60 460.10,39.50 464.20,39.00 468.30,40.00 472.40,42.00 476.50,42.40 480.60,42.40 484.70,42.40 488.80,43.00 492.90,43.50" fill="none" stroke="#444" stroke-width="0.9" />
<polyline points="308.40,55.50 312.50,56.60 316.60,54.70 320.70,54.70 324.80,57.10 328.90,48.50 333.00,52.80 337.10,50.40 341.20,52.80 345.30,49.40 349.40,55.50 353.50,44.20 357.60,43.00 361.70,46.30 365.80,47.80 369.90,44.00 374.00,47.30 378.10,44.20 382.20,43.50 386.30,42.30 390.40,44.40 394.50,44.70 398.60,45.70 402.70,39.90 406.80,45.70 410.90,41.30 415.00,45.20 419.10,44.70 423.20,38.50 427.30,45.20 431.40,41.80 435.50,39.40 439.60,35.10" fill="none" stroke="#444" stroke-width="0.9" />
<polygon points="308.40,53.12 310.60,57.08 306.20,57.08" fill="#fff" stroke="#222" stroke-width="0.9"/>
<polygon points="312.50,58.12 314.70,62.08 310.30,62.08" fill="#fff" stroke="#222" stroke-width="0.9"/>
<polygon points="316.60,64.02 318.80,67.98 314.40,67.98" fill="#fff" stroke="#222" stroke-width="0.9"/>
<polygon points="320.70,70.82 322.90,74.78 318.50,74.78" fill="#fff" stroke="#222" stroke-width="0.9"/>
<polygon points="324.80,72.62 327.00,76.58 322.60,76.58" fill="#fff" stroke="#222" stroke-width="0.9"/>
<polygon points="328.90,75.62 331.10,79.58 326.70,79.58" fill="#fff" stroke="#222" stroke-width="0.9"/>
<polygon points="333.00,76.82 335.20,80.78 330.80,80.78" fill="#fff" stroke="#222" stroke-width="0.9"/>
<polygon points="337.10,77.62 339.30,81.58 334.90,81.58" fill="#fff" stroke="#222" stroke-width="0.9"/>
<polygon points="341.20,75.62 343.40,79.58 339.00,79.58" fill="#fff" stroke="#222" stroke-width="0.9"/>
<polygon points="345.30,74.62 347.50,78.58 343.10,78.58" fill="#fff" stroke="#222" stroke-width="0.9"/>
<polygon points="349.40,74.12 351.60,78.08 347.20,78.08" fill="#fff" stroke="#222" stroke-width="0.9"/>
<polygon points="353.50,74.12 355.70,78.08 351.30,78.08" fill="#fff" stroke="#222" stroke-width="0.9"/>
<polygon points="357.60,77.32 359.80,81.28 355.40,81.28" fill="#fff" stroke="#222" stroke-width="0.9"/>
<polygon points="361.70,73.62 363.90,77.58 359.50,77.58" fill="#fff" stroke="#222" stroke-width="0.9"/>
<polygon points="365.80,73.62 368.00,77.58 363.60,77.58" fill="#fff" stroke="#222" stroke-width="0.9"/>
<polygon points="369.90,73.12 372.10,77.08 367.70,77.08" fill="#fff" stroke="#222" stroke-width="0.9"/>
<polygon points="374.00,72.62 376.20,76.58 371.80,76.58" fill="#fff" stroke="#222" stroke-width="0.9"/>
<polygon points="378.10,73.62 380.30,77.58 375.90,77.58" fill="#fff" stroke="#222" stroke-width="0.9"/>
<polygon points="382.20,72.62 384.40,76.58 380.00,76.58" fill="#fff" stroke="#222" stroke-width="0.9"/>
<polygon points="386.30,77.32 388.50,81.28 384.10,81.28" fill="#fff" stroke="#222" stroke-width="0.9"/>
<polygon points="390.40,71.62 392.60,75.58 388.20,75.58" fill="#fff" stroke="#222" stroke-width="0.9"/>
<polygon points="394.50,71.12 396.70,75.08 392.30,75.08" fill="#fff" stroke="#222" stroke-width="0.9"/>
<polygon points="398.60,69.62 400.80,73.58 396.40,73.58" fill="#fff" stroke="#222" stroke-width="0.9"/>
<polygon points="402.70,68.62 404.90,72.58 400.50,72.58" fill="#fff" stroke="#222" stroke-width="0.9"/>
<polygon points="406.80,68.12 409.00,72.08 404.60,72.08" fill="#fff" stroke="#222" stroke-width="0.9"/>
<polygon points="410.90,68.62 413.10,72.58 408.70,72.58" fill="#fff" stroke="#222" stroke-width="0.9"/>
<polygon points="415.00,67.62 417.20,71.58 412.80,71.58" fill="#fff" stroke="#222" stroke-width="0.9"/>
<polygon points="419.10,67.62 421.30,71.58 416.90,71.58" fill="#fff" stroke="#222" stroke-width="0.9"/>
<polygon points="423.20,67.12 425.40,71.08 421.00,71.08" fill="#fff" stroke="#222" stroke-width="0.9"/>
<polygon points="427.30,65.62 429.50,69.58 425.10,69.58" fill="#fff" stroke="#222" stroke-width="0.9"/>
<polygon points="431.40,65.12 433.60,69.08 429.20,69.08" fill="#fff" stroke="#222" stroke-width="0.9"/>
<polygon points="435.50,63.62 437.70,67.58 433.30,67.58" fill="#fff" stroke="#222" stroke-width="0.9"/>
<polygon points="439.60,64.62 441.80,68.58 437.40,68.58" fill="#fff" stroke="#222" stroke-width="0.9"/>
<polygon points="443.70,66.62 445.90,70.58 441.50,70.58" fill="#fff" stroke="#222" stroke-width="0.9"/>
<polygon points="447.80,63.62 450.00,67.58 445.60,67.58" fill="#fff" stroke="#222" stroke-width="0.9"/>
<polygon points="451.90,63.12 454.10,67.08 449.70,67.08" fill="#fff" stroke="#222" stroke-width="0.9"/>
<polygon points="456.00,62.62 458.20,66.58 453.80,66.58" fill="#fff" stroke="#222" stroke-width="0.9"/>
<polygon points="460.10,62.62 462.30,66.58 457.90,66.58" fill="#fff" stroke="#222" stroke-width="0.9"/>
<polygon points="464.20,62.62 466.40,66.58 462.00,66.58" fill="#fff" stroke="#222" stroke-width="0.9"/>
<polygon points="468.30,62.62 470.50,66.58 466.10,66.58" fill="#fff" stroke="#222" stroke-width="0.9"/>
<polygon points="472.40,63.12 474.60,67.08 470.20,67.08" fill="#fff" stroke="#222" stroke-width="0.9"/>
<polygon points="476.50,62.12 478.70,66.08 474.30,66.08" fill="#fff" stroke="#222" stroke-width="0.9"/>
<polygon points="480.60,62.62 482.80,66.58 478.40,66.58" fill="#fff" stroke="#222" stroke-width="0.9"/>
<polygon points="484.70,62.62 486.90,66.58 482.50,66.58" fill="#fff" stroke="#222" stroke-width="0.9"/>
<polygon points="488.80,62.62 491.00,66.58 486.60,66.58" fill="#fff" stroke="#222" stroke-width="0.9"/>
<polygon points="492.90,62.62 495.10,66.58 490.70,66.58" fill="#fff" stroke="#222" stroke-width="0.9"/>
<polygon points="308.40,53.02 310.70,57.16 306.10,57.16" fill="#111"/>
<polygon points="312.50,55.52 314.80,59.66 310.20,59.66" fill="#111"/>
<polygon points="316.60,60.52 318.90,64.66 314.30,64.66" fill="#111"/>
<polygon points="320.70,67.52 323.00,71.66 318.40,71.66" fill="#111"/>
<polygon points="324.80,71.52 327.10,75.66 322.50,75.66" fill="#111"/>
<polygon points="328.90,74.52 331.20,78.66 326.60,78.66" fill="#111"/>
<polygon points="333.00,81.92 335.30,86.06 330.70,86.06" fill="#111"/>
<polygon points="337.10,76.22 339.40,80.36 334.80,80.36" fill="#111"/>
<polygon points="341.20,78.52 343.50,82.66 338.90,82.66" fill="#111"/>
<polygon points="345.30,73.82 347.60,77.96 343.00,77.96" fill="#111"/>
<polygon points="349.40,74.42 351.70,78.56 347.10,78.56" fill="#111"/>
<polygon points="353.50,73.02 355.80,77.16 351.20,77.16" fill="#111"/>
<polygon points="357.60,74.52 359.90,78.66 355.30,78.66" fill="#111"/>
<polygon points="361.70,72.52 364.00,76.66 359.40,76.66" fill="#111"/>
<polygon points="365.80,75.02 368.10,79.16 363.50,79.16" fill="#111"/>
<polygon points="369.90,73.52 372.20,77.66 367.60,77.66" fill="#111"/>
<polygon points="374.00,72.02 376.30,76.16 371.70,76.16" fill="#111"/>
<polygon points="378.10,74.02 380.40,78.16 375.80,78.16" fill="#111"/>
<polygon points="382.20,71.52 384.50,75.66 379.90,75.66" fill="#111"/>
<polygon points="386.30,72.52 388.60,76.66 384.00,76.66" fill="#111"/>
<polygon points="390.40,70.52 392.70,74.66 388.10,74.66" fill="#111"/>
<polygon points="394.50,72.22 396.80,76.36 392.20,76.36" fill="#111"/>
<polygon points="398.60,70.52 400.90,74.66 396.30,74.66" fill="#111"/>
<polygon points="402.70,67.52 405.00,71.66 400.40,71.66" fill="#111"/>
<polygon points="406.80,72.02 409.10,76.16 404.50,76.16" fill="#111"/>
<polygon points="410.90,68.02 413.20,72.16 408.60,72.16" fill="#111"/>
<polygon points="415.00,71.52 417.30,75.66 412.70,75.66" fill="#111"/>
<polygon points="419.10,67.52 421.40,71.66 416.80,71.66" fill="#111"/>
<polygon points="423.20,68.52 425.50,72.66 420.90,72.66" fill="#111"/>
<polygon points="427.30,71.02 429.60,75.16 425.00,75.16" fill="#111"/>
<polygon points="431.40,72.72 433.70,76.86 429.10,76.86" fill="#111"/>
<polygon points="435.50,65.52 437.80,69.66 433.20,69.66" fill="#111"/>
<polygon points="439.60,64.02 441.90,68.16 437.30,68.16" fill="#111"/>
<polygon points="443.70,60.82 446.00,64.96 441.40,64.96" fill="#111"/>
<polygon points="447.80,64.22 450.10,68.36 445.50,68.36" fill="#111"/>
<polygon points="451.90,60.22 454.20,64.36 449.60,64.36" fill="#111"/>
<polygon points="456.00,61.32 458.30,65.46 453.70,65.46" fill="#111"/>
<polygon points="460.10,59.62 462.40,63.76 457.80,63.76" fill="#111"/>
<polygon points="464.20,59.62 466.50,63.76 461.90,63.76" fill="#111"/>
<polygon points="468.30,60.52 470.60,64.66 466.00,64.66" fill="#111"/>
<polygon points="472.40,60.52 474.70,64.66 470.10,64.66" fill="#111"/>
<polygon points="476.50,61.92 478.80,66.06 474.20,66.06" fill="#111"/>
<polygon points="480.60,64.22 482.90,68.36 478.30,68.36" fill="#111"/>
<polygon points="484.70,56.72 487.00,60.86 482.40,60.86" fill="#111"/>
<polygon points="488.80,71.22 491.10,75.36 486.50,75.36" fill="#111"/>
<rect x="307.00" y="54.10" width="2.8000000000000003" height="2.8000000000000003" fill="#fff" stroke="#333" stroke-width="0.9"/>
<rect x="311.10" y="54.10" width="2.8000000000000003" height="2.8000000000000003" fill="#fff" stroke="#333" stroke-width="0.9"/>
<rect x="315.20" y="53.30" width="2.8000000000000003" height="2.8000000000000003" fill="#fff" stroke="#333" stroke-width="0.9"/>
<rect x="319.30" y="53.30" width="2.8000000000000003" height="2.8000000000000003" fill="#fff" stroke="#333" stroke-width="0.9"/>
<rect x="323.40" y="51.10" width="2.8000000000000003" height="2.8000000000000003" fill="#fff" stroke="#333" stroke-width="0.9"/>
<rect x="327.50" y="51.10" width="2.8000000000000003" height="2.8000000000000003" fill="#fff" stroke="#333" stroke-width="0.9"/>
<rect x="331.60" y="51.60" width="2.8000000000000003" height="2.8000000000000003" fill="#fff" stroke="#333" stroke-width="0.9"/>
<rect x="335.70" y="52.10" width="2.8000000000000003" height="2.8000000000000003" fill="#fff" stroke="#333" stroke-width="0.9"/>
<rect x="339.80" y="51.60" width="2.8000000000000003" height="2.8000000000000003" fill="#fff" stroke="#333" stroke-width="0.9"/>
<rect x="343.90" y="54.10" width="2.8000000000000003" height="2.8000000000000003" fill="#fff" stroke="#333" stroke-width="0.9"/>
<rect x="348.00" y="55.10" width="2.8000000000000003" height="2.8000000000000003" fill="#fff" stroke="#333" stroke-width="0.9"/>
<rect x="352.10" y="48.80" width="2.8000000000000003" height="2.8000000000000003" fill="#fff" stroke="#333" stroke-width="0.9"/>
<rect x="356.20" y="51.10" width="2.8000000000000003" height="2.8000000000000003" fill="#fff" stroke="#333" stroke-width="0.9"/>
<rect x="360.30" y="48.30" width="2.8000000000000003" height="2.8000000000000003" fill="#fff" stroke="#333" stroke-width="0.9"/>
<rect x="364.40" y="48.30" width="2.8000000000000003" height="2.8000000000000003" fill="#fff" stroke="#333" stroke-width="0.9"/>
<rect x="368.50" y="49.30" width="2.8000000000000003" height="2.8000000000000003" fill="#fff" stroke="#333" stroke-width="0.9"/>
<rect x="372.60" y="46.90" width="2.8000000000000003" height="2.8000000000000003" fill="#fff" stroke="#333" stroke-width="0.9"/>
<rect x="376.70" y="47.80" width="2.8000000000000003" height="2.8000000000000003" fill="#fff" stroke="#333" stroke-width="0.9"/>
<rect x="380.80" y="44.50" width="2.8000000000000003" height="2.8000000000000003" fill="#fff" stroke="#333" stroke-width="0.9"/>
<rect x="384.90" y="46.40" width="2.8000000000000003" height="2.8000000000000003" fill="#fff" stroke="#333" stroke-width="0.9"/>
<rect x="389.00" y="44.90" width="2.8000000000000003" height="2.8000000000000003" fill="#fff" stroke="#333" stroke-width="0.9"/>
<rect x="393.10" y="47.40" width="2.8000000000000003" height="2.8000000000000003" fill="#fff" stroke="#333" stroke-width="0.9"/>
<rect x="397.20" y="44.50" width="2.8000000000000003" height="2.8000000000000003" fill="#fff" stroke="#333" stroke-width="0.9"/>
<rect x="401.30" y="47.60" width="2.8000000000000003" height="2.8000000000000003" fill="#fff" stroke="#333" stroke-width="0.9"/>
<rect x="405.40" y="46.60" width="2.8000000000000003" height="2.8000000000000003" fill="#fff" stroke="#333" stroke-width="0.9"/>
<rect x="409.50" y="45.70" width="2.8000000000000003" height="2.8000000000000003" fill="#fff" stroke="#333" stroke-width="0.9"/>
<rect x="413.60" y="42.40" width="2.8000000000000003" height="2.8000000000000003" fill="#fff" stroke="#333" stroke-width="0.9"/>
<rect x="417.70" y="40.40" width="2.8000000000000003" height="2.8000000000000003" fill="#fff" stroke="#333" stroke-width="0.9"/>
<rect x="421.80" y="41.60" width="2.8000000000000003" height="2.8000000000000003" fill="#fff" stroke="#333" stroke-width="0.9"/>
<rect x="425.90" y="38.00" width="2.8000000000000003" height="2.8000000000000003" fill="#fff" stroke="#333" stroke-width="0.9"/>
<rect x="430.00" y="45.70" width="2.8000000000000003" height="2.8000000000000003" fill="#fff" stroke="#333" stroke-width="0.9"/>
<rect x="434.10" y="41.40" width="2.8000000000000003" height="2.8000000000000003" fill="#fff" stroke="#333" stroke-width="0.9"/>
<rect x="438.20" y="41.00" width="2.8000000000000003" height="2.8000000000000003" fill="#fff" stroke="#333" stroke-width="0.9"/>
<rect x="442.30" y="43.90" width="2.8000000000000003" height="2.8000000000000003" fill="#fff" stroke="#333" stroke-width="0.9"/>
<rect x="446.40" y="41.00" width="2.8000000000000003" height="2.8000000000000003" fill="#fff" stroke="#333" stroke-width="0.9"/>
<rect x="450.50" y="45.10" width="2.8000000000000003" height="2.8000000000000003" fill="#fff" stroke="#333" stroke-width="0.9"/>
<rect x="454.60" y="37.20" width="2.8000000000000003" height="2.8000000000000003" fill="#fff" stroke="#333" stroke-width="0.9"/>
<rect x="458.70" y="38.10" width="2.8000000000000003" height="2.8000000000000003" fill="#fff" stroke="#333" stroke-width="0.9"/>
<rect x="462.80" y="37.60" width="2.8000000000000003" height="2.8000000000000003" fill="#fff" stroke="#333" stroke-width="0.9"/>
<rect x="466.90" y="38.60" width="2.8000000000000003" height="2.8000000000000003" fill="#fff" stroke="#333" stroke-width="0.9"/>
<rect x="471.00" y="40.60" width="2.8000000000000003" height="2.8000000000000003" fill="#fff" stroke="#333" stroke-width="0.9"/>
<rect x="475.10" y="41.00" width="2.8000000000000003" height="2.8000000000000003" fill="#fff" stroke="#333" stroke-width="0.9"/>
<rect x="479.20" y="41.00" width="2.8000000000000003" height="2.8000000000000003" fill="#fff" stroke="#333" stroke-width="0.9"/>
<rect x="483.30" y="41.00" width="2.8000000000000003" height="2.8000000000000003" fill="#fff" stroke="#333" stroke-width="0.9"/>
<rect x="487.40" y="41.60" width="2.8000000000000003" height="2.8000000000000003" fill="#fff" stroke="#333" stroke-width="0.9"/>
<rect x="491.50" y="42.10" width="2.8000000000000003" height="2.8000000000000003" fill="#fff" stroke="#333" stroke-width="0.9"/>
<rect x="306.60" y="53.70" width="3.6" height="3.6" fill="#111"/>
<rect x="310.70" y="54.80" width="3.6" height="3.6" fill="#111"/>
<rect x="314.80" y="52.90" width="3.6" height="3.6" fill="#111"/>
<rect x="318.90" y="52.90" width="3.6" height="3.6" fill="#111"/>
<rect x="323.00" y="55.30" width="3.6" height="3.6" fill="#111"/>
<rect x="327.10" y="46.70" width="3.6" height="3.6" fill="#111"/>
<rect x="331.20" y="51.00" width="3.6" height="3.6" fill="#111"/>
<rect x="335.30" y="48.60" width="3.6" height="3.6" fill="#111"/>
<rect x="339.40" y="51.00" width="3.6" height="3.6" fill="#111"/>
<rect x="343.50" y="47.60" width="3.6" height="3.6" fill="#111"/>
<rect x="347.60" y="53.70" width="3.6" height="3.6" fill="#111"/>
<rect x="351.70" y="42.40" width="3.6" height="3.6" fill="#111"/>
<rect x="355.80" y="41.20" width="3.6" height="3.6" fill="#111"/>
<rect x="359.90" y="44.50" width="3.6" height="3.6" fill="#111"/>
<rect x="364.00" y="46.00" width="3.6" height="3.6" fill="#111"/>
<rect x="368.10" y="42.20" width="3.6" height="3.6" fill="#111"/>
<rect x="372.20" y="45.50" width="3.6" height="3.6" fill="#111"/>
<rect x="376.30" y="42.40" width="3.6" height="3.6" fill="#111"/>
<rect x="380.40" y="41.70" width="3.6" height="3.6" fill="#111"/>
<rect x="384.50" y="40.50" width="3.6" height="3.6" fill="#111"/>
<rect x="388.60" y="42.60" width="3.6" height="3.6" fill="#111"/>
<rect x="392.70" y="42.90" width="3.6" height="3.6" fill="#111"/>
<rect x="396.80" y="43.90" width="3.6" height="3.6" fill="#111"/>
<rect x="400.90" y="38.10" width="3.6" height="3.6" fill="#111"/>
<rect x="405.00" y="43.90" width="3.6" height="3.6" fill="#111"/>
<rect x="409.10" y="39.50" width="3.6" height="3.6" fill="#111"/>
<rect x="413.20" y="43.40" width="3.6" height="3.6" fill="#111"/>
<rect x="417.30" y="42.90" width="3.6" height="3.6" fill="#111"/>
<rect x="421.40" y="36.70" width="3.6" height="3.6" fill="#111"/>
<rect x="425.50" y="43.40" width="3.6" height="3.6" fill="#111"/>
<rect x="429.60" y="40.00" width="3.6" height="3.6" fill="#111"/>
<rect x="433.70" y="37.60" width="3.6" height="3.6" fill="#111"/>
<rect x="437.80" y="33.30" width="3.6" height="3.6" fill="#111"/>
<circle cx="308.40" cy="55.50" r="1.9" fill="#111"/>
<circle cx="312.50" cy="55.00" r="1.9" fill="#111"/>
<circle cx="316.60" cy="54.70" r="1.9" fill="#111"/>
<circle cx="320.70" cy="54.70" r="1.9" fill="#111"/>
<circle cx="324.80" cy="55.00" r="1.9" fill="#111"/>
<circle cx="328.90" cy="54.00" r="1.9" fill="#111"/>
<circle cx="333.00" cy="54.50" r="1.9" fill="#111"/>
<circle cx="337.10" cy="58.10" r="1.9" fill="#111"/>
<circle cx="341.20" cy="55.00" r="1.9" fill="#111"/>
<circle cx="345.30" cy="57.60" r="1.9" fill="#111"/>
<circle cx="349.40" cy="68.60" r="1.9" fill="#111"/>
<circle cx="353.50" cy="76.30" r="1.9" fill="#111"/>
<circle cx="357.60" cy="76.00" r="1.9" fill="#111"/>
<circle cx="361.70" cy="74.50" r="1.9" fill="#111"/>
<circle cx="365.80" cy="75.00" r="1.9" fill="#111"/>
<circle cx="369.90" cy="74.00" r="1.9" fill="#111"/>
<circle cx="374.00" cy="74.50" r="1.9" fill="#111"/>
<circle cx="378.10" cy="74.00" r="1.9" fill="#111"/>
<circle cx="382.20" cy="73.50" r="1.9" fill="#111"/>
<circle cx="386.30" cy="74.00" r="1.9" fill="#111"/>
<circle cx="390.40" cy="73.00" r="1.9" fill="#111"/>
<circle cx="394.50" cy="72.00" r="1.9" fill="#111"/>
<circle cx="398.60" cy="65.60" r="1.9" fill="#111"/>
<circle cx="402.70" cy="70.50" r="1.9" fill="#111"/>
<circle cx="406.80" cy="71.00" r="1.9" fill="#111"/>
<circle cx="410.90" cy="70.00" r="1.9" fill="#111"/>
<circle cx="415.00" cy="71.50" r="1.9" fill="#111"/>
<circle cx="419.10" cy="70.00" r="1.9" fill="#111"/>
<circle cx="423.20" cy="72.00" r="1.9" fill="#111"/>
<circle cx="427.30" cy="77.60" r="1.9" fill="#111"/>
<circle cx="431.40" cy="68.00" r="1.9" fill="#111"/>
<circle cx="435.50" cy="67.00" r="1.9" fill="#111"/>
<circle cx="439.60" cy="66.70" r="1.9" fill="#111"/>
<circle cx="443.70" cy="69.00" r="1.9" fill="#111"/>
<circle cx="447.80" cy="68.00" r="1.9" fill="#111"/>
<circle cx="451.90" cy="69.60" r="1.9" fill="#111"/>
<circle cx="456.00" cy="70.50" r="1.9" fill="#111"/>
<circle cx="460.10" cy="71.30" r="1.9" fill="#111"/>
<circle cx="464.20" cy="74.20" r="1.9" fill="#111"/>
<circle cx="468.30" cy="74.80" r="1.9" fill="#111"/>
<circle cx="472.40" cy="77.10" r="1.9" fill="#111"/>
<circle cx="476.50" cy="78.60" r="1.9" fill="#111"/>
<line x1="315.10" y1="94.30" x2="332.00" y2="94.30" stroke="#3a3a3a" stroke-width="1" />
<rect x="321.50" y="92.30" width="4" height="4" fill="#fff" stroke="#111" stroke-width="1"/>
<text x="334.40" y="96.90" font-family='"Liberation Serif", serif' font-size="12.6" font-weight="normal" text-anchor="start" fill="#111" textLength="90.7" lengthAdjust="spacingAndGlyphs"  stroke="#111" stroke-width="0.22">Healthy/normoxia</text>
<line x1="315.10" y1="104.60" x2="332.00" y2="104.60" stroke="#3a3a3a" stroke-width="1" />
<rect x="321.00" y="102.10" width="5" height="5" fill="#111"/>
<text x="334.40" y="108.00" font-family='"Liberation Serif", serif' font-size="12.6" font-weight="normal" text-anchor="start" fill="#111" textLength="101.6" lengthAdjust="spacingAndGlyphs"  stroke="#111" stroke-width="0.22">Leukemia/normoxia</text>
<line x1="315.10" y1="117.00" x2="332.00" y2="117.00" stroke="#3a3a3a" stroke-width="1" />
<polygon points="323.50,113.22 327.00,119.52 320.00,119.52" fill="#fff" stroke="#111" stroke-width="1"/>
<text x="334.40" y="119.60" font-family='"Liberation Serif", serif' font-size="12.6" font-weight="normal" text-anchor="start" fill="#111" textLength="83.1" lengthAdjust="spacingAndGlyphs"  stroke="#111" stroke-width="0.22">Healthy/hypoxia</text>
<line x1="315.10" y1="130.30" x2="332.00" y2="130.30" stroke="#3a3a3a" stroke-width="1" />
<polygon points="323.50,126.52 327.00,132.82 320.00,132.82" fill="#111"/>
<text x="334.40" y="132.50" font-family='"Liberation Serif", serif' font-size="12.6" font-weight="normal" text-anchor="start" fill="#111" textLength="102.1" lengthAdjust="spacingAndGlyphs"  stroke="#111" stroke-width="0.22">Early phase/hypoxia</text>
<line x1="315.10" y1="143.80" x2="332.00" y2="143.80" stroke="#3a3a3a" stroke-width="1" />
<circle cx="323.50" cy="143.80" r="2.8" fill="#111"/>
<text x="334.40" y="146.60" font-family='"Liberation Serif", serif' font-size="12.6" font-weight="normal" text-anchor="start" fill="#111" textLength="111.5" lengthAdjust="spacingAndGlyphs"  stroke="#111" stroke-width="0.22">Middle phase/hypoxia</text>
</svg>
</body></html>
